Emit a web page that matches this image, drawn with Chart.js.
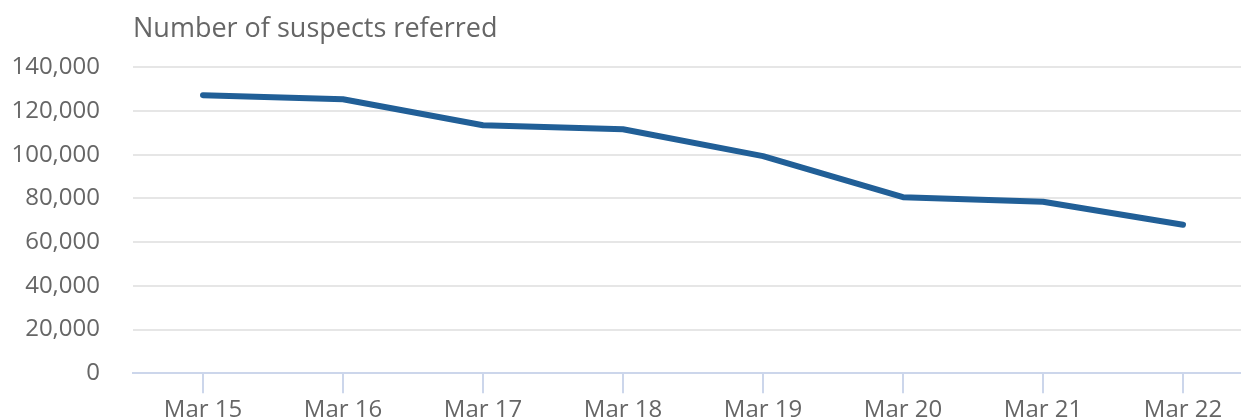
<!DOCTYPE html>
<html>
<head>
<meta charset="utf-8">
<script src="https://cdn.jsdelivr.net/npm/chart.js@4/dist/chart.umd.min.js"></script>
<style>
  html, body { margin: 0; padding: 0; background: #ffffff; overflow: hidden; }
  #wrap { position: relative; width: 1253px; height: 428px; }
</style>
</head>
<body>
<div id="wrap"><canvas id="c"></canvas></div>
<script>
const categories = ["Mar 15", "Mar 16", "Mar 17", "Mar 18", "Mar 19", "Mar 20", "Mar 21", "Mar 22"];
const suspectsReferred = [127300, 125400, 113500, 111700, 99400, 80600, 78500, 68000];
const yMin = 0;
const yMax = 140000;
const yStep = 20000;
const chartTitle = "Number of suspects referred";

const FONT = "'Open Sans', sans-serif";

new Chart(document.getElementById('c'), {
  type: 'line',
  data: {
    labels: categories,
    datasets: [{
      data: suspectsReferred,
      borderColor: '#215f97',
      borderWidth: 6,
      pointRadius: 0,
      pointHoverRadius: 0,
      tension: 0,
      borderCapStyle: 'round',
      borderJoinStyle: 'round',
      fill: false
    }]
  },
  options: {
    responsive: true,
    maintainAspectRatio: false,
    animation: false,
    layout: { padding: { left: 0, right: 0, top: 0, bottom: 0 } },
    plugins: {
      legend: { display: false },
      tooltip: { enabled: false },
      title: {
        display: true,
        text: chartTitle,
        align: 'start',
        fullSize: false,
        color: '#666666',
        font: { family: FONT, size: 27, weight: 'normal' },
        padding: { top: 13, bottom: 22 }
      }
    },
    scales: {
      x: {
        offset: true,
        border: { display: true, color: '#ccd6eb', width: 2 },
        grid: {
          display: true,
          drawOnChartArea: false,
          drawTicks: true,
          tickLength: 20,
          color: '#ccd6eb',
          lineWidth: 2,
          offset: false
        },
        ticks: {
          color: '#666666',
          font: { family: FONT, size: 24 },
          padding: 3,
          maxRotation: 0,
          autoSkip: false
        }
      },
      y: {
        min: yMin,
        max: yMax,
        border: { display: false },
        afterFit: axis => { axis.width = 133; },
        grid: {
          color: '#e6e6e6',
          lineWidth: 2,
          drawTicks: false
        },
        ticks: {
          stepSize: yStep,
          color: '#666666',
          font: { family: FONT, size: 24 },
          padding: 33,
          callback: v => v.toLocaleString('en-US')
        }
      }
    }
  }
});
</script>
</body>
</html>
